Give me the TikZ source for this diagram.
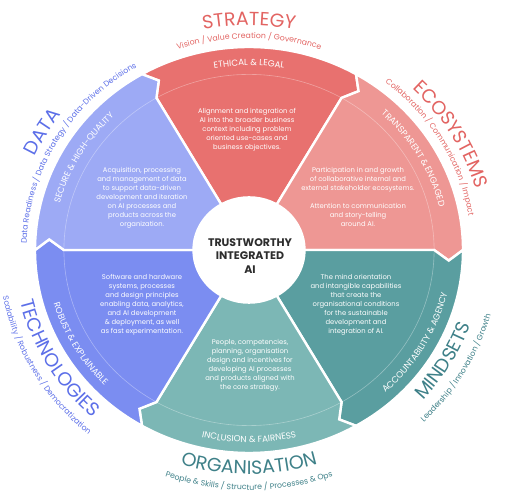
\documentclass[tikz,border=0pt]{standalone}
\usepackage{fontspec}
\setmainfont{Poppins}
\usetikzlibrary{decorations.text}
\definecolor{cStr}{RGB}{232,113,111}
\definecolor{cEco}{RGB}{238,151,148}
\definecolor{cMin}{RGB}{90,158,160}
\definecolor{cOrg}{RGB}{124,183,181}
\definecolor{cTec}{RGB}{123,141,241}
\definecolor{cDat}{RGB}{157,170,245}
\definecolor{tRed}{RGB}{226,100,98}
\definecolor{tTeal}{RGB}{62,128,136}
\definecolor{tBlue}{RGB}{92,111,232}
\definecolor{cCen}{RGB}{45,45,45}
\newcommand\RX{214}
\newcommand\RY{203}
\newcommand\ttlfnt{\fontsize{19}{19}\selectfont}
\newcommand\subfnt{\fontsize{7.8}{8}\selectfont}
\newcommand\bandfnt{\fontsize{8.8}{9}\selectfont}
\newcommand\arctext[5]{\path[decorate,decoration={text along path,text align=center,text={|#4|#5}}] ({(\RX+#1)*cos(#2)},{(\RY+#1)*sin(#2)}) arc[start angle=#2,end angle=#3,x radius={\RX+#1},y radius={\RY+#1}];}
\newcommand\sector[3]{%
 \filldraw[fill=#1,draw=white,line width=2.4pt,line join=miter] (0,0)
 -- ({\RX*0.865*cos(#2)},{\RY*0.865*sin(#2)})
 -- ({\RX*0.935*cos(#2-3.2)},{\RY*0.935*sin(#2-3.2)})
 -- ({\RX*cos(#2)},{\RY*sin(#2)})
 arc[start angle=#2,end angle=#3,x radius=\RX,y radius=\RY]
 -- ({\RX*0.935*cos(#3-3.2)},{\RY*0.935*sin(#3-3.2)})
 -- ({\RX*0.865*cos(#3)},{\RY*0.865*sin(#3)}) -- cycle;
 \draw[white,opacity=0.35,line width=0.6pt] ({\RX*0.865*cos(#2)},{\RY*0.865*sin(#2)}) arc[start angle=#2,end angle=#3,x radius={\RX*0.865},y radius={\RY*0.865}];}
\tikzset{bodytxt/.style={text=white,font=\fontsize{6.8}{9}\selectfont,align=center,inner sep=0pt},
 coretxt/.style={text=cCen,font=\fontsize{11}{13.5}\selectfont\bfseries,align=center,inner sep=0pt}}
\begin{document}
\begin{tikzpicture}[x=1pt,y=1pt]
\useasboundingbox (0,0) rectangle (505,494);
\begin{scope}[shift={(249,244)}]
\sector{cStr}{120}{60}
\sector{cEco}{60}{0}
\sector{cMin}{0}{-60}
\sector{cOrg}{-60}{-120}
\sector{cTec}{240}{180}
\sector{cDat}{180}{120}
\fill[white] (0,0) ellipse[x radius=56.7,y radius=53.8];
% titles, top half (clockwise)
\arctext{21.5}{150}{30}{\ttlfnt\color{tRed}}{STRATEGY}
\arctext{8.5}{150}{30}{\subfnt\color{tRed}}{Vision / Value Creation / Governance}
\arctext{21.5}{90}{-30}{\ttlfnt\color{tRed}}{ECOSYSTEMS}
\arctext{8.5}{90}{-30}{\subfnt\color{tRed}}{Collaboration / Communication / Impact}
\arctext{21.5}{210}{90}{\ttlfnt\color{tBlue}}{DATA}
\arctext{8.5}{210}{90}{\subfnt\color{tBlue}}{Data Readiness / Data Strategy / Data-Driven Decisions}
% titles, bottom half (counterclockwise)
\arctext{21}{210}{330}{\ttlfnt\color{tTeal}}{ORGANISATION}
\arctext{37}{210}{330}{\subfnt\color{tTeal}}{People {\&} Skills / Structure / Processes {\&} Ops}
\arctext{21}{-90}{30}{\ttlfnt\color{tTeal}}{MINDSETS}
\arctext{37}{-90}{30}{\subfnt\color{tTeal}}{Leadership / Innovation / Growth}
\arctext{21}{150}{270}{\ttlfnt\color{tBlue}}{TECHNOLOGIES}
\arctext{37}{150}{270}{\subfnt\color{tBlue}}{Scalability / Robustness / Democratization}
% band labels
\arctext{-18.5}{130}{50}{\bandfnt\color{white}}{ETHICAL {\&} LEGAL}
\arctext{-18.5}{70}{-10}{\bandfnt\color{white}}{TRANSPARENT {\&} ENGAGED}
\arctext{-18.5}{190}{110}{\bandfnt\color{white}}{SECURE {\&} HIGH-QUALITY}
\arctext{-10.5}{230}{310}{\bandfnt\color{white}}{INCLUSION {\&} FAIRNESS}
\arctext{-10.5}{-70}{10}{\bandfnt\color{white}}{ACCOUNTABILITY {\&} AGENCY}
\arctext{-10.5}{170}{250}{\bandfnt\color{white}}{ROBUST {\&} EXPLAINABLE}
\end{scope}
\node[bodytxt] (strat) at (247,364) {Alignment and integration of\\AI into the broader business\\context including problem\\oriented use-cases and\\business objectives.};
\node[bodytxt] (eco) at (358,297) {Participation in and growth\\of collaborative internal and\\external stakeholder ecosystems.\\[9pt]Attention to communication\\and story-telling\\around AI.};
\node[bodytxt] (mind) at (356,189) {The mind orientation\\and intangible capabilities\\that create the\\organisational conditions\\for the sustainable\\development and\\integration of AI.};
\node[bodytxt] (org) at (250,128.5) {People, competencies,\\planning, organisation\\design and incentives for\\developing AI processes\\and products aligned with\\the core strategy.};
\node[bodytxt] (tech) at (142,189.5) {Software and hardware\\systems, processes\\and design principles\\enabling data, analytics,\\and AI development\\\& deployment, as well\\as fast experimentation.};
\node[bodytxt] (data) at (142,296.5) {Acquisition, processing\\and management of data\\to support data-driven\\development and iteration\\on AI processes and\\products across the\\organization.};
\node[coretxt] (core) at (250,238) {TRUSTWORTHY\\INTEGRATED\\AI};
\end{tikzpicture}
\end{document}
